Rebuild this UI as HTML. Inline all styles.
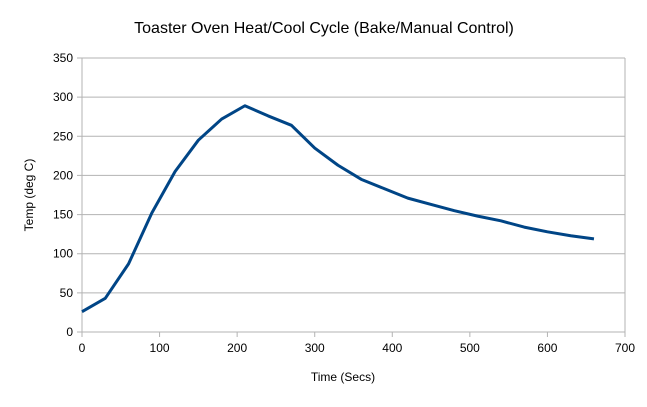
<!DOCTYPE html>
<html><head><meta charset="utf-8"><style>
body{margin:0;background:#fff;font-family:"Liberation Sans",sans-serif}
</style></head><body>
<svg id="chart" width="647" height="402" xmlns="http://www.w3.org/2000/svg" font-family="Liberation Sans, sans-serif">
<text x="324" y="33" font-size="16" text-anchor="middle" fill="#000">Toaster Oven Heat/Cool Cycle (Bake/Manual Control)</text>
<g id="grid"></g><g id="axes"></g><g id="series"></g>
<text x="343" y="381" font-size="12" text-anchor="middle">Time (Secs)</text>
<text x="33" y="195" font-size="12" text-anchor="middle" transform="rotate(-90 33 195)">Temp (deg C)</text>
</svg>
<script>
const times=[0,30,60,90,120,150,180,210,240,270,300,330,360,390,420,450,480,510,540,570,600,630,660];
const temps=[26,43,87,152,205,245,272,289,276,264,235,213,195,183,171,163,155,148,142,134,128,123,119];
const xTicks=[0,100,200,300,400,500,600,700];
const yTicks=[0,50,100,150,200,250,300,350];
const X0=82,X1=625,Y0=332,Y1=58;
const sx=v=>X0+(X1-X0)*v/700, sy=v=>Y0-(Y0-Y1)*v/350;
const NS="http://www.w3.org/2000/svg";
function mk(t,a,p){const e=document.createElementNS(NS,t);for(const k in a)e.setAttribute(k,a[k]);p.appendChild(e);return e;}
const grid=document.getElementById('grid'),axes=document.getElementById('axes'),ser=document.getElementById('series');
yTicks.forEach(v=>{
 const l=mk('line',{x1:X0-5,x2:X1,y1:sy(v),y2:sy(v),stroke:'#b3b3b3','stroke-width':1},grid);
 
 
 const t=mk('text',{x:X0-9,y:sy(v)+4,'font-size':12,'text-anchor':'end'},axes);t.textContent=v;
 
 
});
xTicks.forEach(v=>{
 const l=mk('line',{x1:sx(v),x2:sx(v),y1:Y0,y2:Y0+5,stroke:'#b3b3b3','stroke-width':1},grid);
 
 
 const t=mk('text',{x:sx(v),y:Y0+20,'font-size':12,'text-anchor':'middle'},axes);t.textContent=v;
 
 
});
const ya=mk('line',{x1:X0,x2:X0,y1:Y1,y2:Y0,stroke:'#b3b3b3'},grid);


const xa=mk('line',{x1:X1,x2:X1,y1:Y1,y2:Y0,stroke:'#b3b3b3'},grid);


const pts=times.map((t,i)=>sx(t)+','+sy(temps[i])).join(' ');
const pl=mk('polyline',{points:pts,fill:'none',stroke:'#004586','stroke-width':3,'stroke-linejoin':'round'},ser);


</script>
</body></html>
